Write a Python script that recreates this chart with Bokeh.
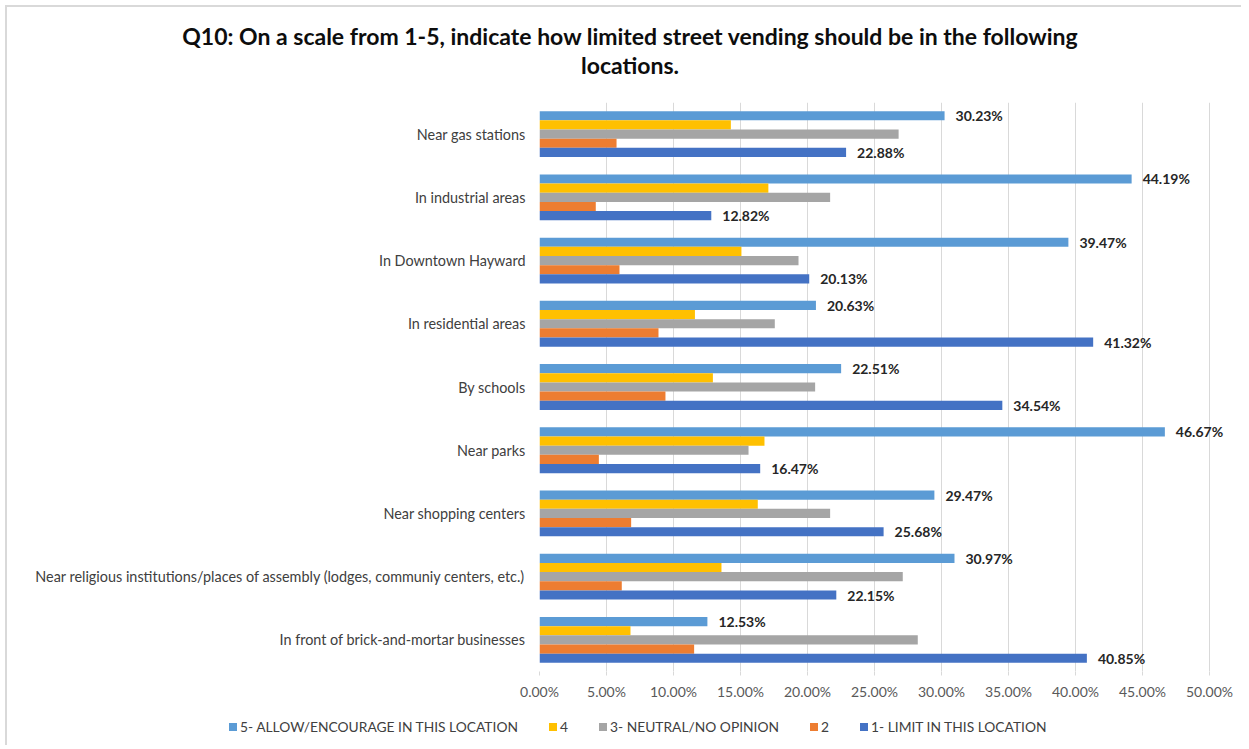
from bokeh.plotting import figure
from bokeh.layouts import column
from bokeh.models import (FactorRange, Range1d, LabelSet, ColumnDataSource, Div,
                          PrintfTickFormatter, FixedTicker)
from bokeh.transform import dodge
from bokeh.core.properties import value
from bokeh.embed import file_html
from bokeh.resources import INLINE

# ---------------- data ----------------
categories = [
    "Near gas stations",
    "In industrial areas",
    "In Downtown Hayward",
    "In residential areas",
    "By schools",
    "Near parks",
    "Near shopping centers",
    "Near religious institutions/places of assembly (lodges, communiy centers, etc.)",
    "In front of brick-and-mortar businesses",
]
s5 = [30.23, 44.19, 39.47, 20.63, 22.51, 46.67, 29.47, 30.97, 12.53]
s4 = [14.28, 17.08, 15.07, 11.60, 12.94, 16.79, 16.29, 13.58, 6.79]
s3 = [26.80, 21.69, 19.33, 17.56, 20.57, 15.60, 21.69, 27.11, 28.23]
s2 = [5.75, 4.20, 5.97, 8.88, 9.40, 4.43, 6.84, 6.14, 11.54]
s1 = [22.88, 12.82, 20.13, 41.32, 34.54, 16.47, 25.68, 22.15, 40.85]
series_names = ["5- ALLOW/ENCOURAGE IN THIS LOCATION", "4", "3- NEUTRAL/NO OPINION",
                "2", "1- LIMIT IN THIS LOCATION"]
series_values = [s5, s4, s3, s2, s1]
labelled = [True, False, False, False, True]
colors = ["#5B9BD5", "#FFC000", "#A5A5A5", "#ED7D31", "#4472C4"]
x_ticks = [0, 5, 10, 15, 20, 25, 30, 35, 40, 45, 50]
title_lines = ["Q10: On a scale from 1-5, indicate how limited street vending should be in the following",
               "locations."]

FONT = "Lato"
BAR_H = 0.145
W = 1241
LEFT_EDGE = {"box-shadow": "inset 5px 0 0 0 #ffffff, inset 7px 0 0 0 #d9d9d9"}
TOP_LEFT_EDGE = {"box-shadow": "inset 5px 5px 0 0 #ffffff, inset 7px 7px 0 0 #d9d9d9"}

# ---------------- title ----------------
title_html = (
    '<div style="box-sizing:border-box;width:%dpx;padding-left:19px;padding-top:22px;'
    'text-align:center;font-family:Lato;font-weight:bold;font-size:23px;'
    'line-height:29px;color:#0d0d0d;white-space:nowrap;">%s</div>'
    % (W, "<br>".join(title_lines))
)
header = Div(text=title_html, width=W, height=94, margin=0, styles=TOP_LEFT_EDGE)

# ---------------- main chart ----------------
p = figure(width=W, height=608,
           y_range=FactorRange(factors=list(reversed(categories)), range_padding=0),
           x_range=Range1d(0, 52.24),
           output_backend="svg", toolbar_location=None,
           min_border_left=539, min_border_right=2, min_border_top=8, min_border_bottom=30)
p.outline_line_color = None
p.border_fill_color = None
p.styles = LEFT_EDGE

for i, (name, vals, col, lab) in enumerate(zip(series_names, series_values, colors, labelled)):
    off = (2 - i) * BAR_H
    src = ColumnDataSource(dict(cat=categories, val=vals,
                                txt=[f"{v:.2f}%" for v in vals]))
    p.hbar(y=dodge("cat", off, range=p.y_range), right="val", left=0,
           height=BAR_H, source=src, fill_color=col, line_color=None)
    if lab:
        p.add_layout(LabelSet(x="val", y=dodge("cat", off, range=p.y_range), text="txt",
                              source=src, x_offset=11, text_baseline="middle",
                              text_align="left", text_font=value(FONT),
                              text_font_size="14px", text_font_style="bold",
                              text_color="#262626"))

p.xaxis.ticker = FixedTicker(ticks=x_ticks)
p.xaxis.formatter = PrintfTickFormatter(format="%.2f%%")
p.xaxis.axis_line_color = None
p.xaxis.major_tick_in = 0
p.xaxis.major_tick_out = 4
p.xaxis.major_tick_line_color = "#d9d9d9"
p.xaxis.minor_tick_line_color = None
p.xaxis.major_label_standoff = 7
p.xaxis.major_label_text_font = FONT
p.xaxis.major_label_text_font_size = "14px"
p.xaxis.major_label_text_color = "#595959"

p.yaxis.axis_line_color = None
p.yaxis.major_tick_line_color = None
p.yaxis.minor_tick_line_color = None
p.yaxis.major_label_standoff = 8
p.yaxis.major_label_text_font = FONT
p.yaxis.major_label_text_font_size = "14.4px"
p.yaxis.major_label_text_color = "#404040"

p.xgrid.grid_line_color = "#d9d9d9"
p.ygrid.grid_line_color = None

# ---------------- legend ----------------
parts = []
for k, (name, col) in enumerate(zip(series_names, colors)):
    gap = "0" if k == 0 else "31px"
    parts.append(
        '<span style="display:inline-block;margin-left:%s;">'
        '<span style="display:inline-block;width:8px;height:8px;background:%s;'
        'margin-right:3px;vertical-align:1px;"></span>%s</span>' % (gap, col, name)
    )
legend_html = (
    '<div style="padding-left:229px;padding-top:17px;font-family:Lato;font-size:13.8px;'
    'line-height:16px;color:#404040;white-space:nowrap;">%s</div>' % "".join(parts)
)
legend = Div(text=legend_html, width=W, height=43, margin=0, styles=LEFT_EDGE)

layout = column(header, p, legend, spacing=0)
open("out.html", "w").write(file_html(layout, INLINE))
